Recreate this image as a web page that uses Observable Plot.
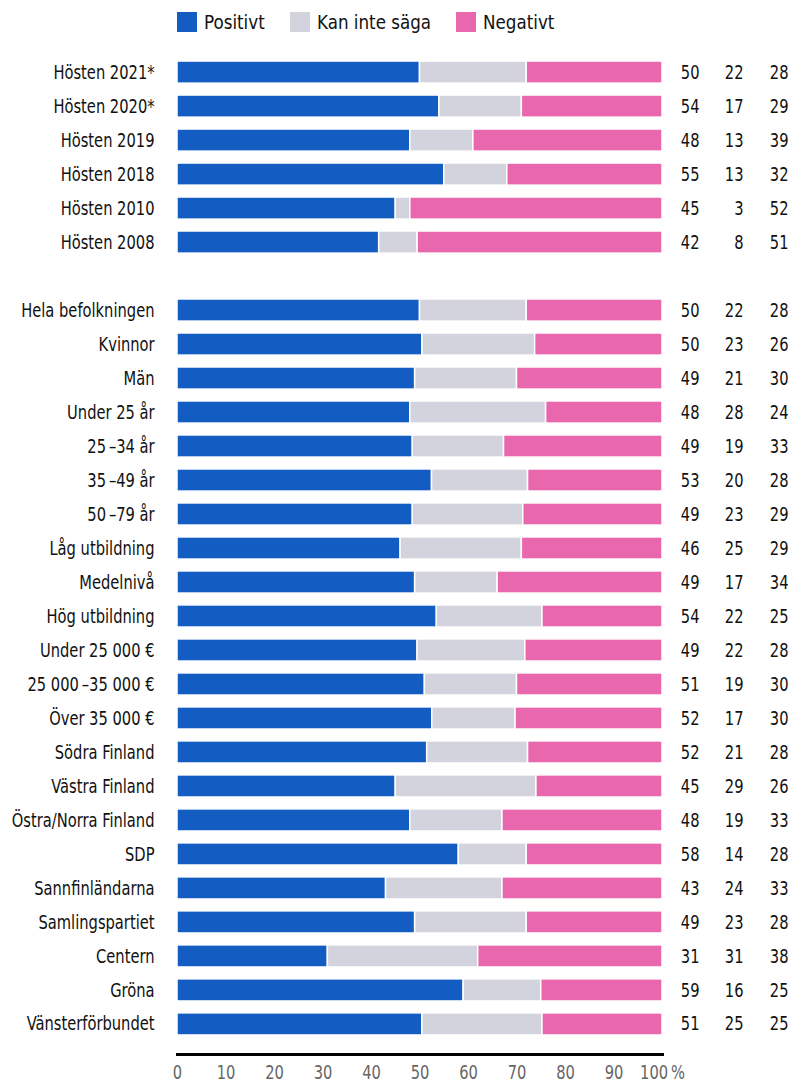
<!DOCTYPE html>
<html>
<head>
<meta charset="utf-8">
<script src="https://cdn.jsdelivr.net/npm/d3@7"></script>
<script src="https://cdn.jsdelivr.net/npm/@observablehq/plot@0.6"></script>
<style>
  html, body { margin: 0; padding: 0; background: #fff; }
  body { width: 792px; height: 1082px; overflow: hidden;
         font-family: "Liberation Sans Narrow", "DejaVu Sans Condensed", sans-serif; }
  #legend { height: 40px; box-sizing: border-box; padding-left: 177px; padding-top: 12px; display: flex; align-items: flex-start; }
  .item { display: flex; align-items: center; margin-right: 25px; font-size: 20px; color: #111; height: 20px; }
  .sw { width: 20px; height: 20px; margin-right: 7px; flex: none; }
  .lt { display: inline-block; white-space: nowrap; transform: scaleX(0.93); transform-origin: left center; }
  svg { display: block; }
</style>
</head>
<body>
<div id="legend"></div>
<div id="chart"></div>
<script>
const labels = [
  "Hösten 2021*", "Hösten 2020*", "Hösten 2019", "Hösten 2018", "Hösten 2010", "Hösten 2008",
  "Hela befolkningen", "Kvinnor", "Män", "Under 25 år", "25\u2009–34 år", "35\u2009–49 år", "50\u2009–79 år",
  "Låg utbildning", "Medelnivå", "Hög utbildning", "Under 25 000 €", "25 000\u2009–35 000 €", "Över 35 000 €",
  "Södra Finland", "Västra Finland", "Östra/Norra Finland", "SDP", "Sannfinländarna", "Samlingspartiet",
  "Centern", "Gröna", "Vänsterförbundet"
];
const positivt = [50, 54, 48, 55, 45, 42, 50, 50, 49, 48, 49, 53, 49, 46, 49, 54, 49, 51, 52, 52, 45, 48, 58, 43, 49, 31, 59, 51];
const kanInteSaga = [22, 17, 13, 13, 3, 8, 22, 23, 21, 28, 19, 20, 23, 25, 17, 22, 22, 19, 17, 21, 29, 19, 14, 24, 23, 31, 16, 25];
const negativt = [28, 29, 39, 32, 52, 51, 28, 26, 30, 24, 33, 28, 29, 29, 34, 25, 28, 30, 30, 28, 26, 33, 28, 33, 28, 38, 25, 25];
const categories = ["Positivt", "Kan inte säga", "Negativt"];
const colors = ["#135CC2", "#D3D3DD", "#E867AD"];
const xTicks = [0, 10, 20, 30, 40, 50, 60, 70, 80, 90, 100];
const SPACER = "\u0000spacer";
const nGroupTop = 6;

const FONT = '"Liberation Sans Narrow", "DejaVu Sans Condensed", sans-serif';
const SQUEEZE = 0.86;

// legend
const legend = document.getElementById("legend");
const legendSpans = [];
categories.forEach((c, i) => {
  const it = document.createElement("div"); it.className = "item";
  const sw = document.createElement("div"); sw.className = "sw"; sw.style.background = colors[i];
  const t = document.createElement("span"); t.className = "lt"; t.textContent = c;
  it.appendChild(sw); it.appendChild(t); legend.appendChild(it);
  legendSpans.push(t);
});
legendSpans.forEach(t => { t.style.width = (t.getBoundingClientRect().width) + "px"; });

const rows = labels.map((l, i) => ({label: l, p: positivt[i], k: kanInteSaga[i], n: negativt[i]}));
const data = rows.flatMap(r => [
  {label: r.label, cat: categories[0], value: r.p},
  {label: r.label, cat: categories[1], value: r.k},
  {label: r.label, cat: categories[2], value: r.n}
]);
const yDomain = [...labels.slice(0, nGroupTop), SPACER, ...labels.slice(nGroupTop)];

const chart = Plot.plot({
  width: 792,
  height: 1042,
  marginLeft: 177,
  marginRight: 130,
  marginTop: 2,
  marginBottom: 28,
  style: {fontFamily: FONT, fontSize: "19px", color: "#111", background: "white"},
  x: {domain: [0, 1]},
  y: {domain: yDomain, paddingInner: 0.35, paddingOuter: 0.56, align: 0.5, round: false},
  color: {domain: categories, range: colors},
  marks: [
    Plot.barX(data, Plot.stackX({
      offset: "normalize", x: "value", y: "label", fill: "cat", z: "cat",
      order: categories, stroke: "white", strokeWidth: 1.5
    })),
    Plot.axisY({tickSize: 0, tickPadding: 23, label: null, fontSize: 19, fill: "#111",
      tickFormat: d => d === SPACER ? "" : d}),
    Plot.axisX({anchor: "bottom", tickSize: 0, tickPadding: 11, label: null, fontSize: 19, fill: "#666",
      ticks: xTicks.map(t => t / 100),
      tickFormat: d => { const v = Math.round(d * 100); return v === 100 ? "100\u2009%" : String(v); }}),
    Plot.frame({anchor: "bottom", stroke: "#000", strokeWidth: 3}),
    Plot.text(rows, {y: "label", text: "p", frameAnchor: "right", dx: 37, textAnchor: "end", fontSize: 19, fill: "#111"}),
    Plot.text(rows, {y: "label", text: "k", frameAnchor: "right", dx: 81, textAnchor: "end", fontSize: 19, fill: "#111"}),
    Plot.text(rows, {y: "label", text: "n", frameAnchor: "right", dx: 126, textAnchor: "end", fontSize: 19, fill: "#111"})
  ]
});
document.getElementById("chart").appendChild(chart);

// condense text horizontally around each text's own anchor point (measured after layout)
const NS = "http://www.w3.org/2000/svg";
Array.from(chart.querySelectorAll("text")).forEach(t => {
  if (!t.textContent) return;
  const bb = t.getBBox();
  const anchor = getComputedStyle(t).textAnchor;
  const lx = anchor === "end" ? bb.x + bb.width : anchor === "middle" ? bb.x + bb.width / 2 : bb.x;
  const ly = bb.y + bb.height / 2;
  const m = t.transform.baseVal.consolidate();
  const mat = m ? m.matrix : null;
  const ax = mat ? mat.a * lx + mat.c * ly + mat.e : lx;
  const g = document.createElementNS(NS, "g");
  g.setAttribute("transform", `translate(${ax},0) scale(${SQUEEZE},1) translate(${-ax},0)`);
  t.parentNode.insertBefore(g, t);
  g.appendChild(t);
});
</script>
</body>
</html>
